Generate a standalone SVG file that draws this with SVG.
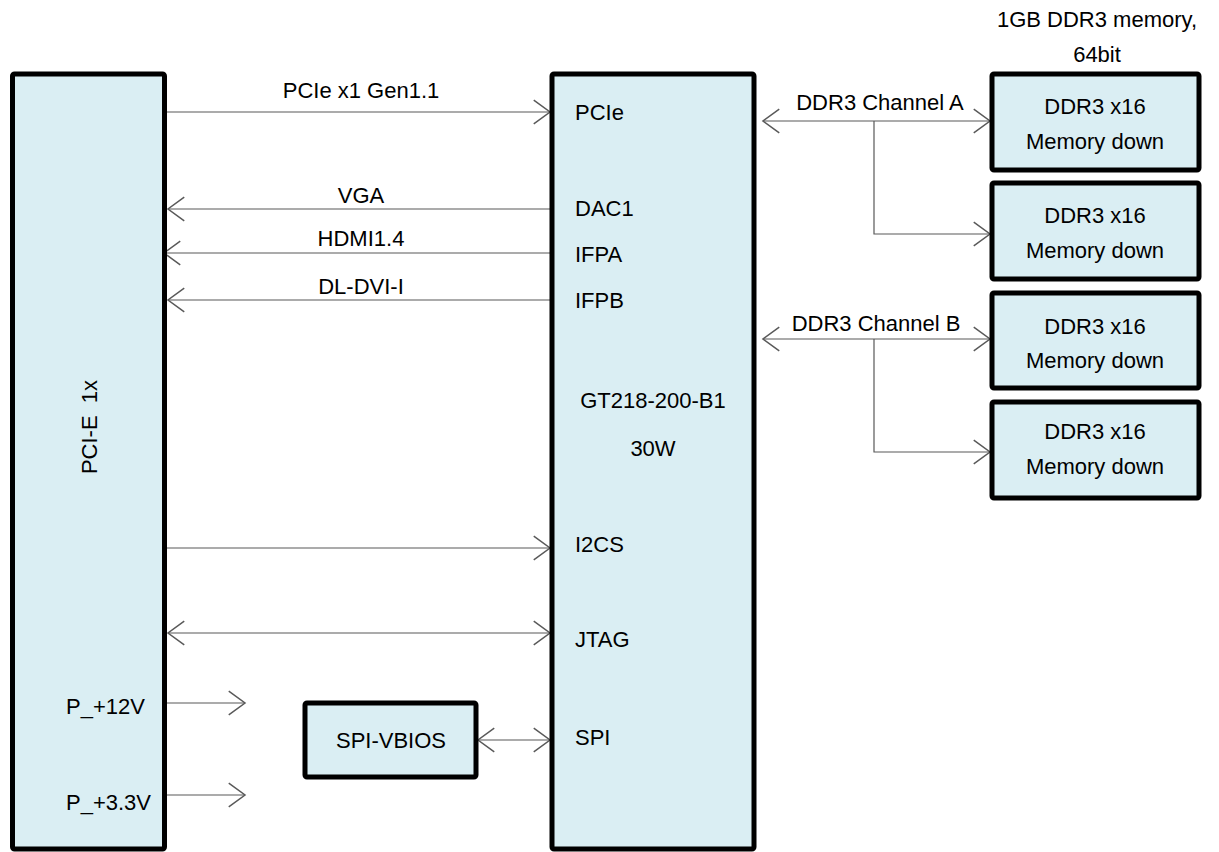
<svg xmlns="http://www.w3.org/2000/svg" width="1219" height="852" viewBox="0 0 1219 852">
<defs>
<style>
.box{fill:#DAEEF3;stroke:#000;stroke-width:5;}
.t{font-family:"Liberation Sans",Arial,sans-serif;font-size:22px;fill:#000;white-space:pre;}
.c{text-anchor:middle;}
.ln{fill:none;stroke:#595959;stroke-width:1.2;}
.arr{marker-end:url(#ah);}
.bi{marker-start:url(#ahs);marker-end:url(#ah);}
.rev{marker-start:url(#ahs);}
</style>
<marker id="ah" markerUnits="userSpaceOnUse" orient="auto" markerWidth="30" markerHeight="30" viewBox="-15 -12 17 24" refX="0" refY="0" overflow="visible">
<path d="M-13,-9.5 L0,0 L-13,9.5" fill="none" stroke="#595959" stroke-width="1.2"/>
</marker>
<marker id="ahs" markerUnits="userSpaceOnUse" orient="auto-start-reverse" markerWidth="30" markerHeight="30" viewBox="-15 -12 17 24" refX="0" refY="0" overflow="visible">
<path d="M-13,-9.5 L0,0 L-13,9.5" fill="none" stroke="#595959" stroke-width="1.2"/>
</marker>
</defs>
<rect width="1219" height="852" fill="#fff"/>

<g id="connectors">
<line class="ln arr" x1="167" y1="112" x2="550" y2="112"/>
<line class="ln rev" x1="168" y1="209" x2="550" y2="209"/>
<line class="ln rev" x1="164" y1="253" x2="550" y2="253"/>
<line class="ln rev" x1="168" y1="300" x2="550" y2="300"/>
<line class="ln arr" x1="167" y1="548" x2="550" y2="548"/>
<line class="ln bi" x1="168" y1="633" x2="550" y2="633"/>
<line class="ln arr" x1="167" y1="703" x2="245" y2="703"/>
<line class="ln arr" x1="167" y1="795" x2="245" y2="795"/>
<line class="ln bi" x1="478" y1="740" x2="550" y2="740"/>
<line class="ln bi" x1="763" y1="121" x2="990" y2="121"/>
<path class="ln arr" d="M874,121 V234 H990"/>
<line class="ln bi" x1="763" y1="339" x2="990" y2="339"/>
<path class="ln arr" d="M874,339 V452 H990"/>
<text class="t c" x="361" y="98">PCIe x1 Gen1.1</text>
<text class="t c" x="361" y="203">VGA</text>
<text class="t c" x="361" y="246">HDMI1.4</text>
<text class="t c" x="361" y="294">DL-DVI-I</text>
<text class="t c" x="880" y="110">DDR3 Channel A</text>
<text class="t c" x="876" y="331">DDR3 Channel B</text>
</g>

<g id="pcie-slot">
<rect class="box" x="12.5" y="74" width="152" height="775" rx="2"/>
<text class="t c" transform="translate(97,427) rotate(-90)">PCI-E  1x</text>
<text class="t" x="66" y="714">P_+12V</text>
<text class="t" x="66" y="810">P_+3.3V</text>
</g>

<g id="gpu">
<rect class="box" x="552" y="74" width="202" height="775" rx="2"/>
<text class="t" x="575" y="120">PCIe</text>
<text class="t" x="575" y="216">DAC1</text>
<text class="t" x="575" y="262">IFPA</text>
<text class="t" x="575" y="308">IFPB</text>
<text class="t c" x="653" y="408">GT218-200-B1</text>
<text class="t c" x="653" y="456">30W</text>
<text class="t" x="575" y="552">I2CS</text>
<text class="t" x="575" y="647">JTAG</text>
<text class="t" x="575" y="745">SPI</text>
</g>

<g id="spi-vbios">
<rect class="box" x="305" y="703" width="171" height="74" rx="2"/>
<text class="t c" x="391" y="748">SPI-VBIOS</text>
</g>

<g id="mem-title">
<text class="t c" x="1097" y="27">1GB DDR3 memory,</text>
<text class="t c" x="1097" y="62">64bit</text>
</g>

<g id="mem1">
<rect class="box" x="992" y="74" width="207" height="96" rx="2"/>
<text class="t c" x="1095" y="114">DDR3 x16</text>
<text class="t c" x="1095" y="149">Memory down</text>
</g>
<g id="mem2">
<rect class="box" x="992" y="183" width="207" height="96" rx="2"/>
<text class="t c" x="1095" y="223">DDR3 x16</text>
<text class="t c" x="1095" y="258">Memory down</text>
</g>
<g id="mem3">
<rect class="box" x="992" y="293" width="207" height="95" rx="2"/>
<text class="t c" x="1095" y="334">DDR3 x16</text>
<text class="t c" x="1095" y="368">Memory down</text>
</g>
<g id="mem4">
<rect class="box" x="992" y="402" width="207" height="96" rx="2"/>
<text class="t c" x="1095" y="439">DDR3 x16</text>
<text class="t c" x="1095" y="474">Memory down</text>
</g>
</svg>
